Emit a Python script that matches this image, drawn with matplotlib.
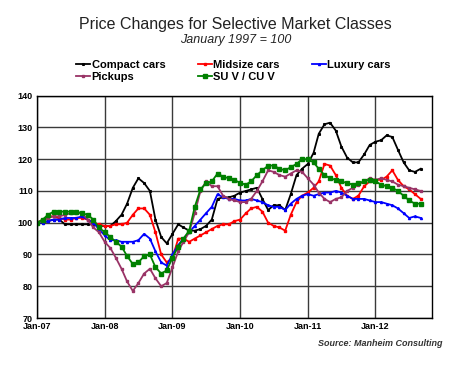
import matplotlib
matplotlib.use("Agg")
import matplotlib.pyplot as plt
import matplotlib.dates as mdates
import pandas as pd

plt.rcParams['font.family'] = ['Liberation Sans', 'DejaVu Sans']

# monthly index, January 2007 = 100
months = pd.date_range('2007-01-01', periods=69, freq='MS')

compact = [100, 100, 100.5, 101, 101, 99.5, 99.5, 99.5, 99.5, 99.5, 99.5, 99,
           99, 99, 100.5, 102.5, 106, 111, 114, 112.5, 110, 101, 95.5, 93.5,
           96.5, 99.5, 98.5, 97.5, 97.5, 98, 99, 101, 107.5, 108, 108, 108.5,
           109.5, 110, 110.5, 111, 107.5, 104, 105.5, 105.5, 104, 109, 115, 117,
           118.5, 122, 128, 131, 131.5, 129, 124, 120.5, 119, 119, 121.5, 124.5,
           125.5, 126, 127.5, 127, 123, 119, 116.5, 116, 117]
midsize = [100, 101, 102, 102, 101.5, 101, 101, 101.5, 101.5, 101, 100, 99.5,
           99, 99, 99.5, 99.5, 100, 102.5, 104.5, 104.5, 102.5, 97, 90, 87.5,
           89, 95, 95, 94, 95, 96, 97, 98, 99, 99.5, 99.5, 100.5,
           101, 103, 104.5, 105, 103.5, 100, 99, 98.5, 97.5, 102.5, 106.5, 108.5,
           109.5, 111, 113, 118.5, 118, 115, 111, 108.5, 107.5, 108.5, 111.5, 113,
           113.5, 113.5, 114.5, 116.5, 113.5, 111.5, 110.5, 109, 107.5]
luxury = [100, 100, 100.5, 101, 101, 101.5, 101.5, 101.5, 102, 101, 100, 98,
          96, 94.5, 94.5, 94, 94, 94, 94.5, 96.5, 95, 91, 87.5, 86.5,
          90, 93, 95, 97, 99, 101, 103, 105, 109, 108, 107.5, 107.5,
          107, 107, 107.5, 107, 106.5, 105.5, 105, 105, 104, 106, 107.5, 108.5,
          109, 108.5, 109, 109.5, 109.5, 110, 109.5, 108.5, 107.5, 107.5, 107.5, 107,
          106.5, 106.5, 106, 105.5, 104.5, 103, 101.5, 102, 101.5]
pickups = [100, 100.5, 101.5, 102, 102, 102.5, 103, 103, 103, 101, 98.5, 97,
           94, 92, 89, 85.5, 81.5, 78.5, 81, 84, 85.5, 82.5, 80, 81,
           86, 91, 94, 97, 103, 110, 113, 111.5, 111.5, 108.5, 107.5, 107,
           106.5, 106.5, 107.5, 110, 113, 116.5, 116, 115, 114.5, 115.5, 116.5, 116,
           114, 112, 109.5, 107.5, 106.5, 107.5, 108, 110, 111, 112, 113, 114,
           113.5, 114, 113.5, 113, 112, 111.5, 111, 110.5, 110]
suv = [100, 101, 102.5, 103.5, 103.5, 103.5, 103.5, 103.5, 103, 102.5, 101, 98.5,
       97, 95.5, 94, 92.5, 89.5, 87, 87.5, 89.5, 90, 86, 84, 85,
       89, 92.5, 95, 97.5, 105, 110.5, 112.5, 113, 115.5, 114.5, 114, 113.5,
       112.5, 112, 113, 115, 116.5, 118, 118, 117, 116.5, 117.5, 118.5, 120,
       120, 119, 117, 115, 114, 113.5, 113, 112.5, 112, 112.5, 113, 113.5,
       113, 112, 111.5, 111, 110, 108.5, 107, 106, 106]

fig = plt.figure(figsize=(4.68, 3.74), dpi=100)
ax = fig.add_axes([37 / 468, 1 - 318 / 374, 395 / 468, 222.3 / 374])

l_compact, = ax.plot(months, compact, color='black', lw=1.3, marker='s', ms=1.2, label='Compact cars')
l_mid, = ax.plot(months, midsize, color='#ff0000', lw=1.3, marker='s', ms=1.9, label='Midsize cars')
l_lux, = ax.plot(months, luxury, color='#0000ff', lw=1.3, marker='^', ms=1.5, label='Luxury cars')
l_pick, = ax.plot(months, pickups, color='#993366', lw=1.3, marker='s', ms=2.1, label='Pickups')
l_suv, = ax.plot(months, suv, color='#008000', lw=1.3, marker='s', ms=2.5, label='SU V / CU V')

ax.set_ylim(70, 140)
ax.set_yticks(range(70, 141, 10))
ax.set_xlim(pd.Timestamp('2007-01-01'), pd.Timestamp('2012-11-01'))
ax.xaxis.set_major_locator(mdates.YearLocator())
ax.xaxis.set_major_formatter(mdates.DateFormatter('%b-%y'))

ax.grid(True, color='#3a3a3a', lw=1.0)
ax.set_axisbelow(True)
for s in ax.spines.values():
    s.set_color('black')
    s.set_linewidth(1.0)
ax.tick_params(length=0, pad=3)
for lab in ax.get_xticklabels() + ax.get_yticklabels():
    lab.set_fontsize(6.5)
    lab.set_fontweight('bold')

fig.text(0.503, 1 - 24 / 374, 'Price Changes for Selective Market Classes',
         ha='center', va='center', fontsize=11.5, color='#222222')
fig.text(0.503, 1 - 40 / 374, 'January 1997 = 100', ha='center', va='center',
         fontsize=9, style='italic', color='#222222')
fig.text(443 / 468, 1 - 344 / 374, 'Source: Manheim Consulting', ha='right', va='center',
         fontsize=6.5, style='italic', fontweight='bold', color='#333333')

# column-major order so the legend reads row by row
handles = [l_compact, l_pick, l_mid, l_suv, l_lux]
fig.legend(handles, [h.get_label() for h in handles], ncol=3, frameon=False,
           loc='upper left', bbox_to_anchor=(76 / 468, 1 - 60 / 374),
           prop={'size': 8, 'weight': 'bold'}, handlelength=1.3,
           handletextpad=0.1, columnspacing=2.9, labelspacing=0.15,
           borderpad=0, borderaxespad=0)

fig.savefig('out.png', dpi=100)
